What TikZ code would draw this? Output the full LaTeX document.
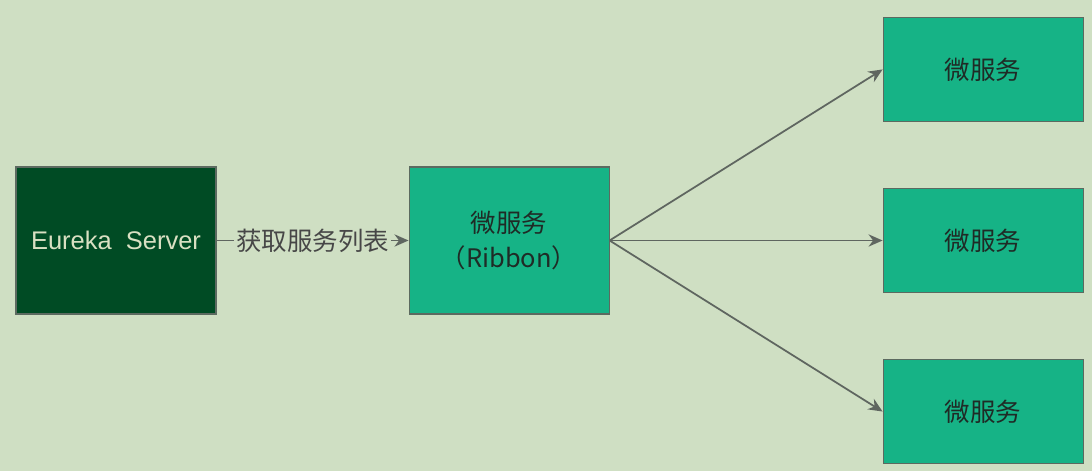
\documentclass[tikz,border=0pt]{standalone}
\usepackage{fontspec}
\setmainfont{Liberation Sans}
\newfontfamily\cjk{Noto Sans CJK SC}
\usetikzlibrary{arrows.meta, positioning}
\definecolor{bggreen}{HTML}{CFDFC3}
\definecolor{darkgreen}{HTML}{004B24}
\definecolor{teal}{HTML}{16B386}
\definecolor{edgegray}{HTML}{5C6A60}
\definecolor{linegray}{HTML}{5F6660}
\definecolor{lighttext}{HTML}{D9E0C2}
\definecolor{darktext}{HTML}{1F2B26}
\tikzset{
    serverbox/.style = {rectangle, minimum width=4cm, minimum height=2.94cm, align=center, draw=edgegray, line width=0.6pt, fill=darkgreen, text=lighttext, font=\fontsize{14.5}{18}\selectfont},
    msbox/.style = {rectangle, minimum width=4cm, minimum height=2.94cm, align=center, draw=edgegray, line width=0.6pt, fill=teal, text=darktext, font=\cjk\fontsize{14.5}{20}\selectfont},
    smallms/.style = {msbox, minimum height=2.08cm},
    arrow/.style = {draw=linegray, line width=1pt, -{Stealth[length=8pt, width=7pt]}}
}
\begin{document}
\begin{tikzpicture}
\fill[bggreen] (0,0) rectangle (21.84,-9.42);
\node[serverbox] (eureka) at (2.32,-4.81) {Eureka\ \ Server};
\node[msbox, right=3.84cm of eureka] (ribbon) {微服务\\（Ribbon）};
\node[smallms, right=5.46cm of ribbon] (ms2) {微服务};
\node[smallms, above=1.32cm of ms2] (ms1) {微服务};
\node[smallms, below=1.32cm of ms2] (ms3) {微服务};

\draw[arrow] (eureka) -- node[fill=bggreen, inner sep=1pt, text=black!72, font=\cjk\fontsize{14.5}{18}\selectfont]{获取服务列表} (ribbon);

\draw[arrow] (ribbon.east) -- (ms1.west);
\draw[arrow] (ribbon.east) -- (ms2.west);
\draw[arrow] (ribbon.east) -- (ms3.west);
\end{tikzpicture}
\end{document}
